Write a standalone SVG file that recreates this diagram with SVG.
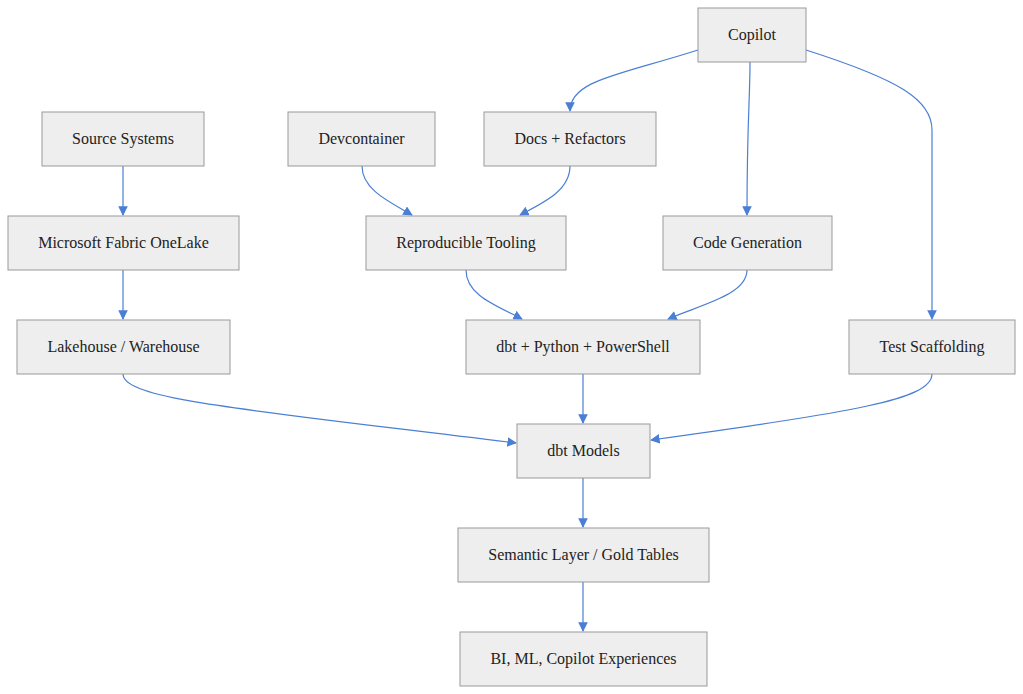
<svg xmlns="http://www.w3.org/2000/svg" width="1023" height="694" viewBox="0 0 1023 694">
<style>
.n rect{fill:#eeeeee;stroke:#999999;stroke-width:1}
.n text{font-family:"Liberation Serif",serif;font-size:16px;fill:#222;text-anchor:middle;dominant-baseline:central}
.e path{fill:none;stroke:#4a7fd4;stroke-width:1.2}
</style>
<defs><marker id="a" viewBox="0 0 10 10" refX="9" refY="5" markerWidth="8" markerHeight="8" orient="auto"><path d="M0,0L10,5L0,10z" fill="#4a7fd4"/></marker></defs>
<rect width="1023" height="694" fill="#fff"/>
<g class="e">
<path d="M698,50 C620,75 570,80 570,111" marker-end="url(#a)"/>
<path d="M750,62 C750,100 747,120 747,215" marker-end="url(#a)"/>
<path d="M806,50 C900,80 932,100 932,130 L932,319" marker-end="url(#a)"/>
<path d="M123,166 L123,215" marker-end="url(#a)"/>
<path d="M123,270 L123,319" marker-end="url(#a)"/>
<path d="M362,166 C362,190 390,202 412,215" marker-end="url(#a)"/>
<path d="M570,166 C570,190 545,202 520,215" marker-end="url(#a)"/>
<path d="M466,270 C466,295 495,305 522,319" marker-end="url(#a)"/>
<path d="M747,270 C747,295 700,305 668,319" marker-end="url(#a)"/>
<path d="M123,374 C123,400 250,410 516,443" marker-end="url(#a)"/>
<path d="M583,374 L583,423" marker-end="url(#a)"/>
<path d="M932,374 C932,400 850,412 651,440" marker-end="url(#a)"/>
<path d="M583,478 L583,527" marker-end="url(#a)"/>
<path d="M583,582 L583,631" marker-end="url(#a)"/>
</g>
<g id="copilot" class="n"><rect x="698" y="8" width="108" height="54"/><text x="752" y="34">Copilot</text></g>
<g id="source" class="n"><rect x="42" y="112" width="162" height="54"/><text x="123" y="138">Source Systems</text></g>
<g id="devcontainer" class="n"><rect x="288" y="112" width="147" height="54"/><text x="361.5" y="138">Devcontainer</text></g>
<g id="docs" class="n"><rect x="484" y="112" width="172" height="54"/><text x="570" y="138">Docs + Refactors</text></g>
<g id="onelake" class="n"><rect x="8" y="216" width="231" height="54"/><text x="123.5" y="242">Microsoft Fabric OneLake</text></g>
<g id="repro" class="n"><rect x="366" y="216" width="200" height="54"/><text x="466" y="242">Reproducible Tooling</text></g>
<g id="codegen" class="n"><rect x="663" y="216" width="169" height="54"/><text x="747.5" y="242">Code Generation</text></g>
<g id="lakehouse" class="n"><rect x="17" y="320" width="213" height="54"/><text x="123.5" y="346">Lakehouse / Warehouse</text></g>
<g id="dbtpy" class="n"><rect x="466" y="320" width="234" height="54"/><text x="583" y="346">dbt + Python + PowerShell</text></g>
<g id="tests" class="n"><rect x="849" y="320" width="166" height="54"/><text x="932" y="346">Test Scaffolding</text></g>
<g id="models" class="n"><rect x="517" y="424" width="133" height="54"/><text x="583.5" y="450">dbt Models</text></g>
<g id="semantic" class="n"><rect x="458" y="528" width="251" height="54"/><text x="583.5" y="554">Semantic Layer / Gold Tables</text></g>
<g id="bi" class="n"><rect x="460" y="632" width="247" height="54"/><text x="583.5" y="658">BI, ML, Copilot Experiences</text></g>
</svg>
